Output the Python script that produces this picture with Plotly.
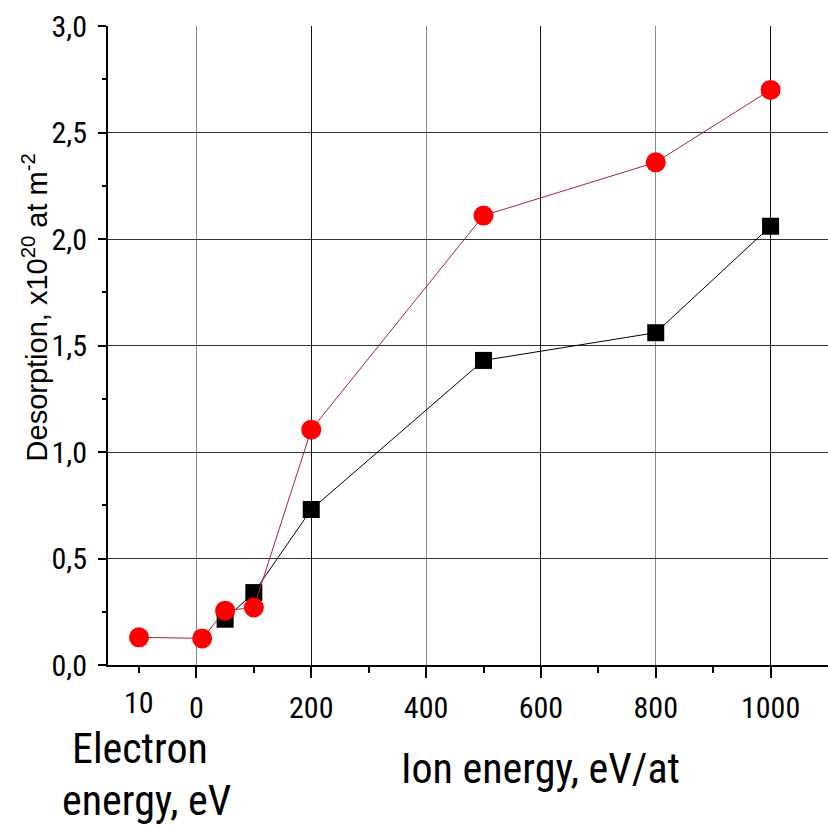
import plotly.graph_objects as go

# Desorption vs. bombarding energy (electron points at the left, ion points to the right)
ion_energy_black = [50, 100, 200, 500, 800, 1000]
desorption_black = [0.215, 0.34, 0.73, 1.43, 1.56, 2.06]

ion_energy_red = [-100, 10, 50, 100, 200, 500, 800, 1000]
desorption_red = [0.13, 0.125, 0.255, 0.27, 1.105, 2.11, 2.36, 2.70]

x_major = [0, 200, 400, 600, 800, 1000]
x_major_text = ["0", "200", "400", "600", "800", "1000"]
x_minor = [-100, 100, 300, 500, 700, 900]
x_grid_dark = [200, 600, 1000]
electron_tick = -100
electron_tick_text = "10"

y_major = [0.0, 0.5, 1.0, 1.5, 2.0, 2.5, 3.0]
y_minor = [0.25, 0.75, 1.25, 1.75, 2.25, 2.75]

NARROW = "Roboto Condensed, Liberation Sans Narrow, Arial Narrow, sans-serif"
REGULAR = "Liberation Sans, Arial, sans-serif"

fig = go.Figure()

fig.add_trace(go.Scatter(
    x=ion_energy_black, y=desorption_black, mode="lines+markers",
    line=dict(color="black", width=1),
    marker=dict(symbol="square", size=17, color="black"),
    showlegend=False,
))
fig.add_trace(go.Scatter(
    x=ion_energy_red, y=desorption_red, mode="lines+markers",
    line=dict(color="#9e2a3a", width=1),
    marker=dict(symbol="circle", size=20, color="#ff0000"),
    showlegend=False,
))
# overlay axis carrying the darker vertical grid lines
fig.add_trace(go.Scatter(x=[None], y=[None], xaxis="x2", showlegend=False, hoverinfo="skip"))

X_RANGE = [-154, 1100]

fig.update_layout(
    width=828, height=829,
    margin=dict(l=108, r=0, t=26, b=164),
    paper_bgcolor="white", plot_bgcolor="white",
    separators=",.",
    xaxis=dict(
        range=X_RANGE, tickmode="array", tickvals=x_major, ticktext=x_major_text,
        showgrid=True, gridcolor="#8a8a8a", gridwidth=1,
        showline=True, linecolor="black", linewidth=2,
        ticks="outside", ticklen=11, tickwidth=1.5, tickcolor="black",
        tickfont=dict(family=NARROW, size=30, color="black"),
        ticklabelstandoff=4,
        minor=dict(tickmode="array", tickvals=x_minor, ticks="outside", ticklen=6,
                   tickwidth=1.5, tickcolor="black", showgrid=False),
        zeroline=False,
    ),
    xaxis2=dict(
        range=X_RANGE, overlaying="x", tickmode="array", tickvals=x_grid_dark,
        showgrid=True, gridcolor="#111111", gridwidth=1,
        showticklabels=False, ticks="", showline=False, zeroline=False,
    ),
    yaxis=dict(
        range=[0, 3.0], tickmode="array", tickvals=y_major, tickformat=".1f",
        showgrid=True, gridcolor="#333333", gridwidth=1,
        showline=True, linecolor="black", linewidth=2,
        ticks="outside", ticklen=8, tickwidth=1.5, tickcolor="black",
        tickfont=dict(family=NARROW, size=30, color="black"),
        ticklabelstandoff=5,
        minor=dict(tickmode="array", tickvals=y_minor,
                   ticks="outside", ticklen=4, tickwidth=1.5, tickcolor="black",
                   showgrid=False),
        zeroline=False,
    ),
    annotations=[
        dict(text="Desorption, x10<sup>20</sup> at m<sup>-2</sup>", textangle=-90,
             xref="paper", yref="paper", x=-0.101, y=0.56, xanchor="center",
             yanchor="middle", showarrow=False,
             font=dict(family=REGULAR, size=29, color="black")),
        dict(text=electron_tick_text, xref="x", yref="paper", x=electron_tick, y=0,
             yanchor="top", yshift=-18, showarrow=False,
             font=dict(family=NARROW, size=30, color="black")),
        dict(text="Electron", xref="paper", yref="paper", x=0.0444, y=-0.130,
             yanchor="middle", xanchor="center", showarrow=False,
             font=dict(family=NARROW, size=42, color="black")),
        dict(text="energy, eV", xref="paper", yref="paper", x=0.053, y=-0.212,
             yanchor="middle", xanchor="center", showarrow=False,
             font=dict(family=NARROW, size=42, color="black")),
        dict(text="Ion energy, eV/at", xref="paper", yref="paper", x=0.60, y=-0.162,
             yanchor="middle", xanchor="center", showarrow=False,
             font=dict(family=NARROW, size=42, color="black")),
    ],
)

fig.write_html("out.html")
